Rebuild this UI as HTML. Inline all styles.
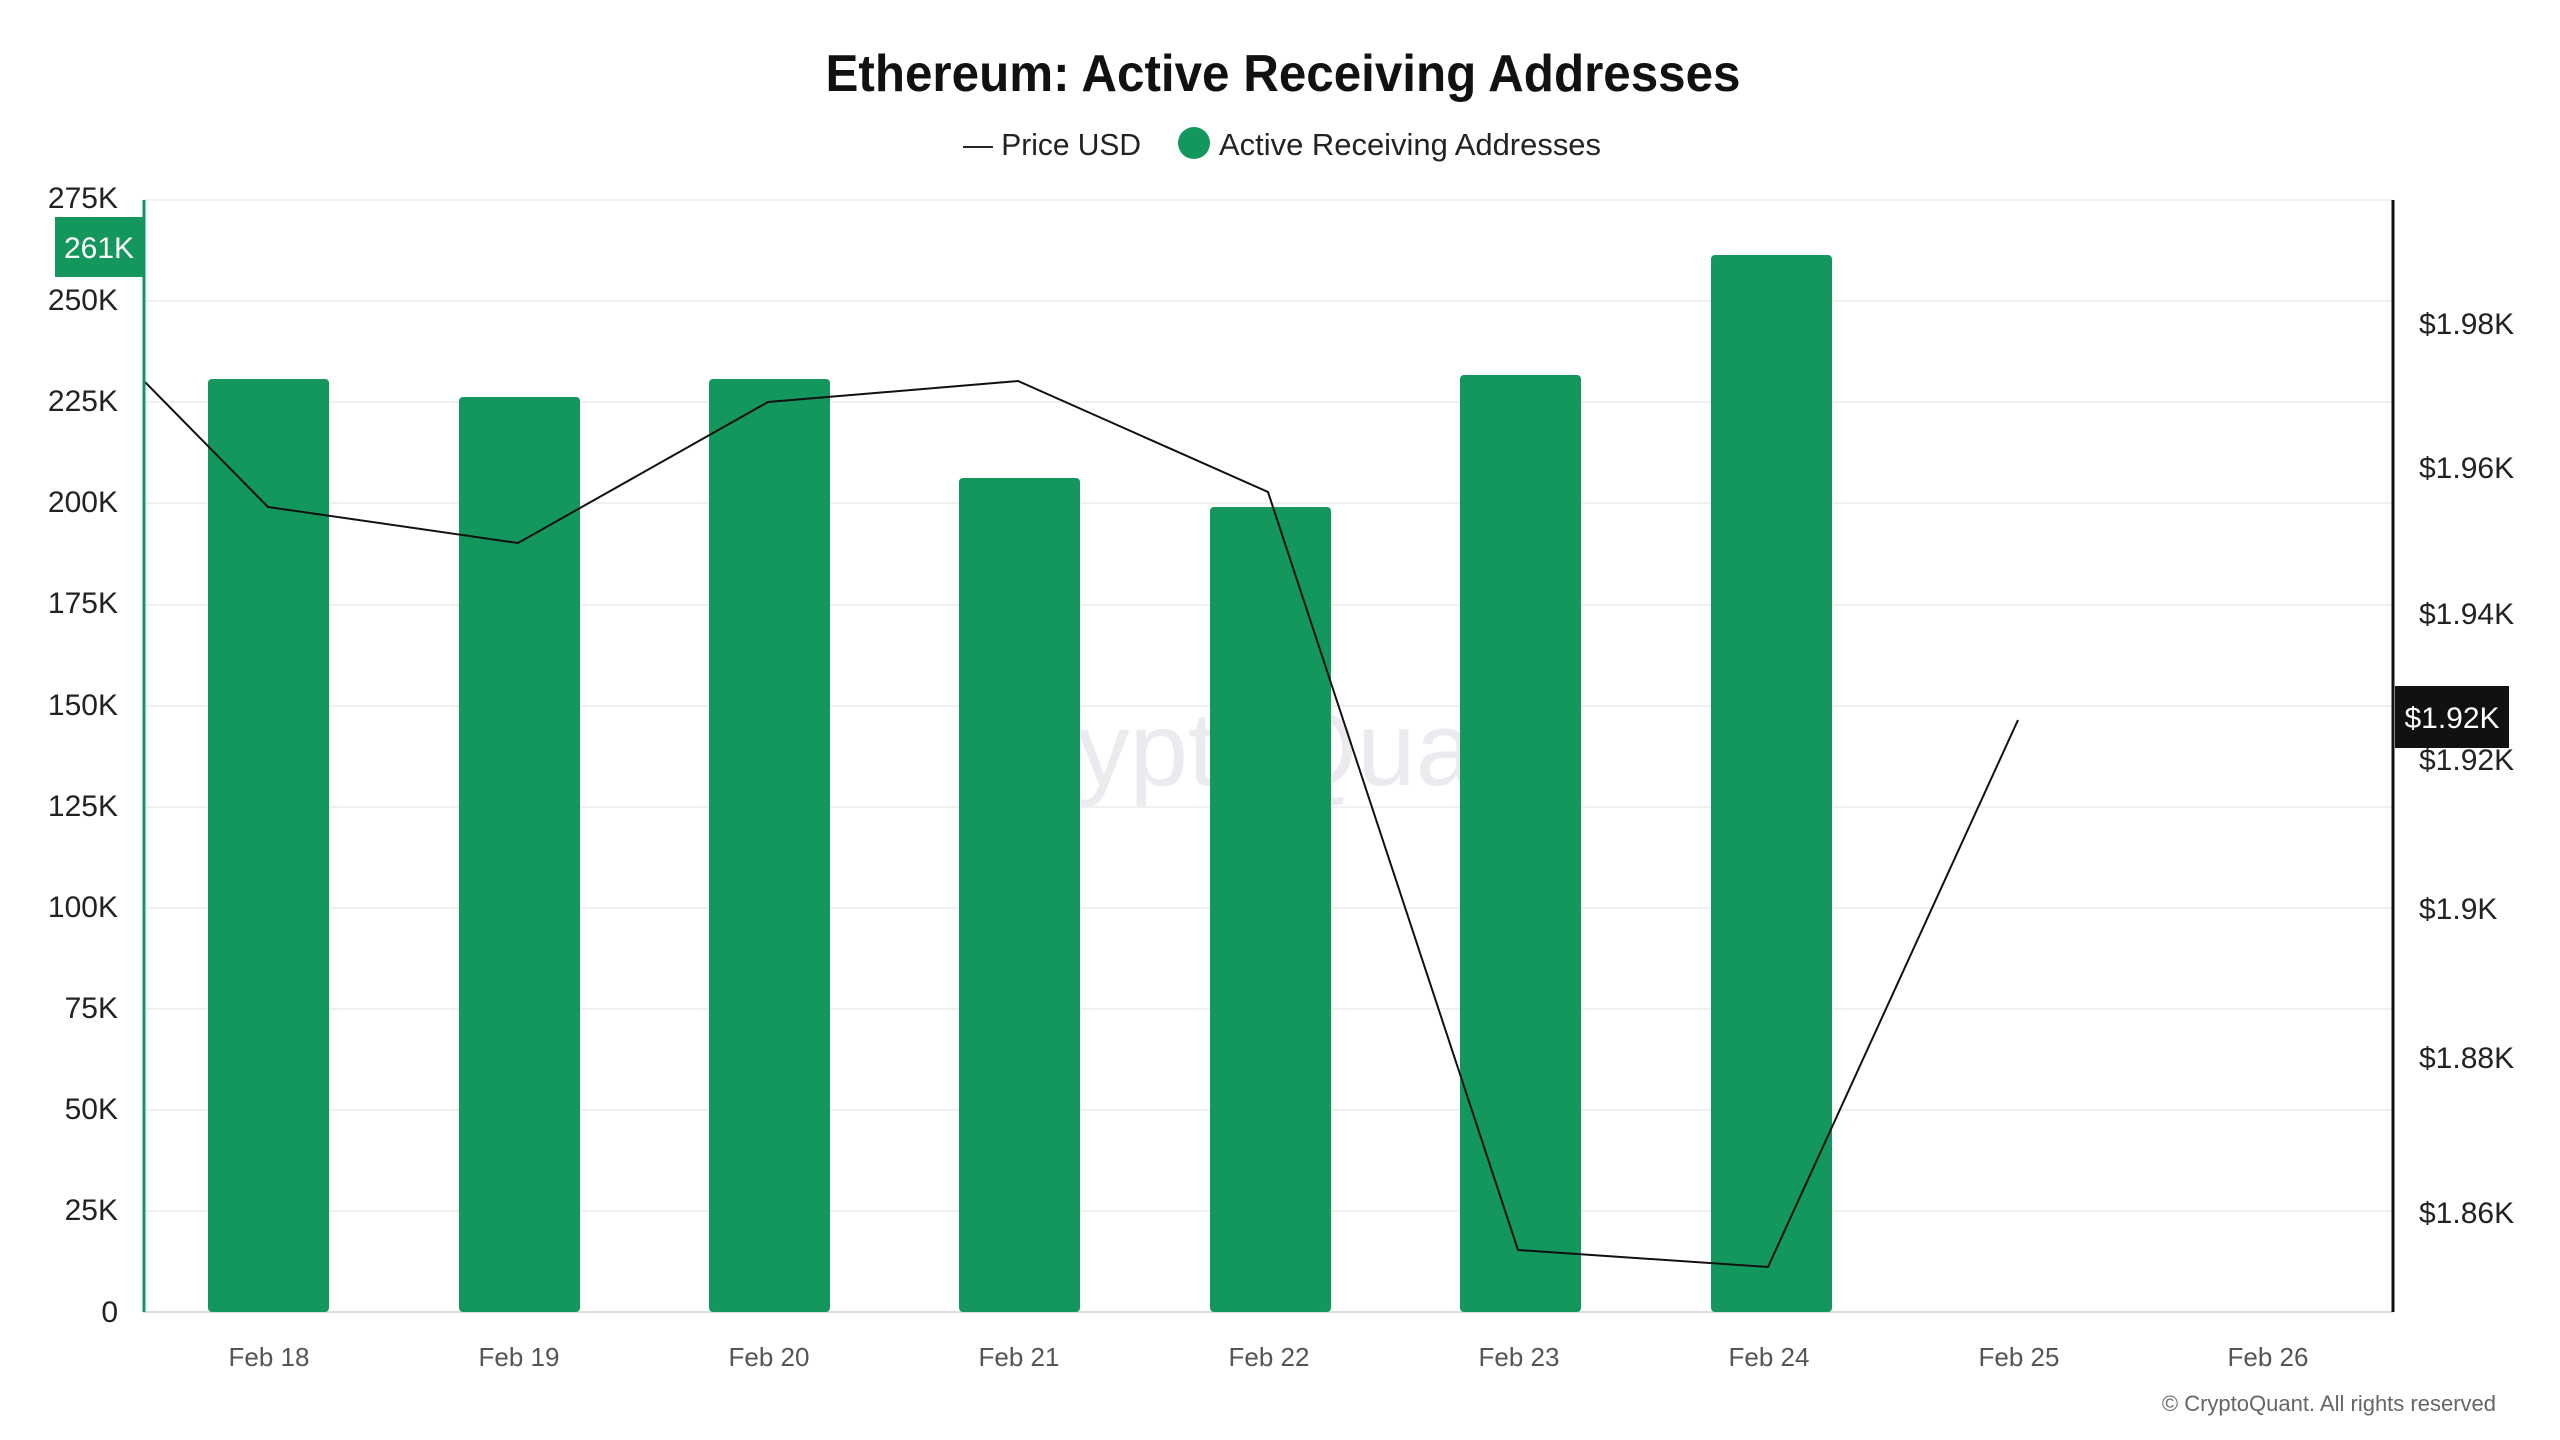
<!DOCTYPE html>
<html><head><meta charset="utf-8"><style>
html,body{margin:0;padding:0;background:#fff}
svg{display:block}
</style></head><body>
<svg width="2560" height="1440" viewBox="0 0 2560 1440" xmlns="http://www.w3.org/2000/svg" font-family="Liberation Sans, DejaVu Sans, sans-serif">
<rect width="2560" height="1440" fill="#fff"/>
<text x="1283" y="91" font-size="52" font-weight="bold" text-anchor="middle" fill="#111" textLength="915" lengthAdjust="spacingAndGlyphs">Ethereum: Active Receiving Addresses</text>
<text x="963" y="155" font-size="31" fill="#222" textLength="178" lengthAdjust="spacingAndGlyphs">— Price USD</text>
<circle cx="1194" cy="143" r="16" fill="#14975d"/>
<text x="1219" y="155" font-size="31" fill="#222" textLength="382" lengthAdjust="spacingAndGlyphs">Active Receiving Addresses</text>
<text x="1264" y="785" font-size="105" fill="#ebebef" text-anchor="middle">CryptoQuant</text>
<g stroke="#f0f0f0" stroke-width="2">
<line x1="143" x2="2393" y1="200" y2="200"/><line x1="143" x2="2393" y1="301" y2="301"/><line x1="143" x2="2393" y1="402" y2="402"/><line x1="143" x2="2393" y1="503" y2="503"/><line x1="143" x2="2393" y1="605" y2="605"/><line x1="143" x2="2393" y1="706" y2="706"/><line x1="143" x2="2393" y1="807" y2="807"/><line x1="143" x2="2393" y1="908" y2="908"/><line x1="143" x2="2393" y1="1009" y2="1009"/><line x1="143" x2="2393" y1="1110" y2="1110"/><line x1="143" x2="2393" y1="1211" y2="1211"/>
</g>
<line x1="143" x2="2393" y1="1312" y2="1312" stroke="#ddd" stroke-width="2"/>
<g fill="#14975d">
<rect x="208" y="379" width="121" height="933" rx="4"/>
<rect x="459" y="397" width="121" height="915" rx="4"/>
<rect x="709" y="379" width="121" height="933" rx="4"/>
<rect x="959" y="478" width="121" height="834" rx="4"/>
<rect x="1210" y="507" width="121" height="805" rx="4"/>
<rect x="1460" y="375" width="121" height="937" rx="4"/>
<rect x="1711" y="255" width="121" height="1057" rx="4"/>
</g>
<polyline fill="none" stroke="#111" stroke-width="2" points="144,381 268,507 518,543 768,402 1018,381 1268,492 1518,1250 1768,1267 2018,720"/>
<line x1="144" x2="144" y1="200" y2="1312" stroke="#14975d" stroke-width="3"/>
<line x1="2393" x2="2393" y1="200" y2="1312" stroke="#111" stroke-width="3"/>
<g font-size="30" fill="#222" text-anchor="end">
<text x="118" y="208">275K</text><text x="118" y="310">250K</text><text x="118" y="411">225K</text><text x="118" y="512">200K</text><text x="118" y="613">175K</text><text x="118" y="715">150K</text><text x="118" y="816">125K</text><text x="118" y="917">100K</text><text x="118" y="1018">75K</text><text x="118" y="1119">50K</text><text x="118" y="1220">25K</text><text x="118" y="1322">0</text>
</g>
<rect x="55" y="217" width="88" height="60" fill="#14975d"/>
<text x="99" y="258" font-size="30" fill="#fff" text-anchor="middle">261K</text>
<g font-size="30" fill="#222">
<text x="2419" y="334">$1.98K</text><text x="2419" y="478">$1.96K</text><text x="2419" y="624">$1.94K</text><text x="2419" y="770">$1.92K</text><text x="2419" y="919">$1.9K</text><text x="2419" y="1068">$1.88K</text><text x="2419" y="1223">$1.86K</text>
</g>
<rect x="2395" y="686" width="114" height="62" fill="#111"/>
<text x="2452" y="728" font-size="30" fill="#fff" text-anchor="middle">$1.92K</text>
<g font-size="26" fill="#555" text-anchor="middle">
<text x="269" y="1366">Feb 18</text><text x="519" y="1366">Feb 19</text><text x="769" y="1366">Feb 20</text><text x="1019" y="1366">Feb 21</text><text x="1269" y="1366">Feb 22</text><text x="1519" y="1366">Feb 23</text><text x="1769" y="1366">Feb 24</text><text x="2019" y="1366">Feb 25</text><text x="2268" y="1366">Feb 26</text>
</g>
<text x="2496" y="1411" font-size="22" fill="#666" text-anchor="end">© CryptoQuant. All rights reserved</text>
</svg>
</body></html>
